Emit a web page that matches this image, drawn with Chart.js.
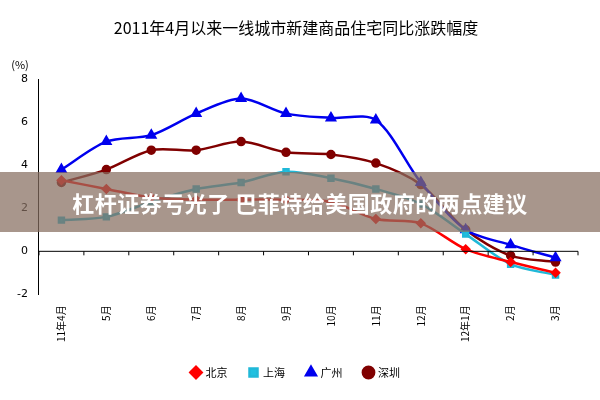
<!DOCTYPE html>
<html>
<head>
<meta charset="utf-8">
<script src="https://cdn.jsdelivr.net/npm/chart.js@4"></script>
<style>
  body { margin: 0; background: #fff; }
  #wrap { position: relative; width: 600px; height: 400px; }
  #banner {
    position: absolute; left: 0; top: 172px; width: 600px; height: 60px;
    background: rgba(135, 110, 95, 0.72); color: #fff;
    font: bold 22px "Noto Sans CJK SC", sans-serif;
    line-height: 60px; text-align: center; letter-spacing: 0.5px;
  }
</style>
</head>
<body>
<div id="wrap">
  <canvas id="myChart" width="600" height="400"></canvas>
  <div id="banner">杠杆证券亏光了 巴菲特给美国政府的两点建议</div>
</div>
<script>
const months = ['11年4月', '5月', '6月', '7月', '8月', '9月', '10月', '11月', '12月', '12年1月', '2月', '3月'];
const beijing = [3.3, 2.9, 2.5, 2.4, 2.4, 2.4, 2.3, 1.5, 1.3, 0.1, -0.5, -1.0];
const shanghai = [1.45, 1.6, 2.3, 2.9, 3.2, 3.7, 3.4, 2.9, 2.2, 0.8, -0.6, -1.1];
const guangzhou = [3.8, 5.1, 5.4, 6.4, 7.1, 6.4, 6.2, 6.1, 3.2, 1.0, 0.3, -0.3];
const shenzhen = [3.2, 3.8, 4.7, 4.7, 5.1, 4.6, 4.5, 4.1, 3.1, 1.0, -0.2, -0.5];
const yTicks = [-2, 0, 2, 4, 6, 8];

// 零线和刻度, 以及"(%)"
const zeroLine = {
  id: 'zeroLine',
  afterDraw(chart) {
    const ctx = chart.ctx, x = chart.scales.x, y = chart.scales.y;
    const y0 = y.getPixelForValue(0);
    ctx.save();
    ctx.strokeStyle = '#000';
    ctx.lineWidth = 1;
    ctx.beginPath();
    ctx.moveTo(x.left, y0);
    ctx.lineTo(x.right, y0);
    const step = (x.right - x.left) / months.length;
    for (let i = 0; i <= months.length; i++) {
      ctx.moveTo(x.left + i * step, y0);
      ctx.lineTo(x.left + i * step, y0 + 4);
    }
    ctx.stroke();
    ctx.fillStyle = '#000';
    ctx.font = '11px "Noto Sans CJK SC", sans-serif';
    ctx.textAlign = 'center';
    ctx.fillText('(%)', y.left + 6, y.top - 14);
    ctx.restore();
  }
};

const ctx = document.getElementById('myChart').getContext('2d');
new Chart(ctx, {
  type: 'line',
  data: {
    labels: months,
    datasets: [
      { label: '北京', data: beijing, borderColor: '#ff0000', backgroundColor: '#ff0000', pointStyle: 'rectRot', pointRadius: 3.5 },
      { label: '上海', data: shanghai, borderColor: '#20b8d8', backgroundColor: '#20c0e0', pointStyle: 'rect', pointRadius: 3.5 },
      { label: '广州', data: guangzhou, borderColor: '#0000ee', backgroundColor: '#0000ee', pointStyle: 'triangle', pointRadius: 4.5 },
      { label: '深圳', data: shenzhen, borderColor: '#800000', backgroundColor: '#800000', pointStyle: 'circle', pointRadius: 3.5 }
    ].map(d => Object.assign({ borderWidth: 2.5, tension: 0.3 }, d))
  },
  options: {
    responsive: false,
    animation: false,
    layout: { padding: { left: 14, right: 22, top: 0, bottom: 12 } },
    plugins: {
      title: {
        display: true,
        text: '2011年4月以来一线城市新建商品住宅同比涨跌幅度',
        color: '#000',
        font: { family: '"Noto Sans CJK SC"', size: 16, weight: 'normal' },
        padding: { top: 18, bottom: 42 }
      },
      legend: {
        position: 'bottom',
        labels: {
          usePointStyle: true, boxWidth: 8, boxHeight: 8, padding: 22, color: '#000',
          font: { family: '"Noto Sans CJK SC"', size: 11 }
        }
      },
      tooltip: { enabled: false }
    },
    scales: {
      x: {
        offset: true,
        grid: { display: false },
        border: { display: false },
        ticks: {
          color: '#000', maxRotation: 90, minRotation: 90, autoSkip: false,
          font: { family: '"Noto Sans CJK SC"', size: 10 }
        }
      },
      y: {
        min: -2, max: 8,
        afterBuildTicks: axis => { axis.ticks = yTicks.map(v => ({ value: v })); },
        grid: { display: false, drawTicks: true },
        border: { display: true, color: '#000' },
        ticks: { color: '#000', font: { family: 'DejaVu Sans', size: 11 } }
      }
    }
  },
  plugins: [zeroLine]
});
</script>
</body>
</html>
